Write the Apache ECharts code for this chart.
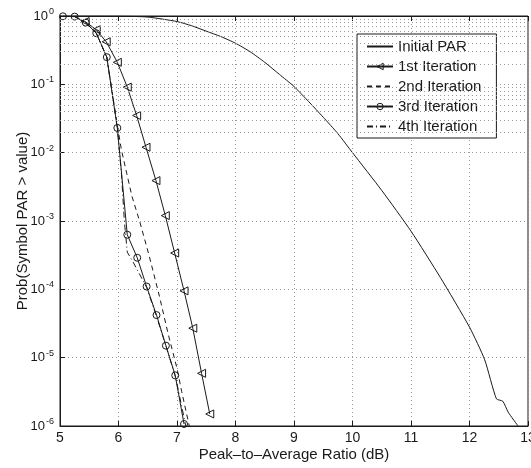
<!DOCTYPE html>
<html>
<head>
<meta charset="utf-8">
<script src="https://cdn.jsdelivr.net/npm/echarts@6/dist/echarts.min.js"></script>
<style>
html, body { margin: 0; padding: 0; background: #fff; }
#chart { width: 531px; height: 468px; }
</style>
</head>
<body>
<div id="chart"></div>
<script>
// values (x in dB, y = probability)
var seriesNames = ['Initial PAR', '1st Iteration', '2nd Iteration', '3rd Iteration', '4th Iteration'];

var initX = [5, 6, 6.5, 7, 7.25, 7.5, 7.75, 8, 8.25, 8.5, 8.75, 9, 9.25, 9.5, 9.75, 10, 10.5, 11, 11.5, 12, 12.26, 12.46, 12.57, 12.66, 12.83];
var initP = [1, 0.995, 0.965, 0.83, 0.72, 0.6, 0.5, 0.4, 0.3, 0.21, 0.14, 9.3e-2, 5.6e-2, 3.3e-2, 1.9e-2, 1e-2, 2.8e-3, 7.1e-4, 1.5e-4, 2.8e-5, 9.3e-6, 2.5e-6, 2.3e-6, 1.6e-6, 1e-6];

var it1X = [5.43, 5.62, 5.79, 5.98, 6.15, 6.31, 6.47, 6.64, 6.80, 6.96, 7.12, 7.27, 7.42, 7.56];
var it1P = [0.83, 0.63, 0.42, 0.21, 9.1e-2, 3.5e-2, 1.2e-2, 3.9e-3, 1.2e-3, 3.4e-4, 9.5e-5, 2.7e-5, 5.9e-6, 1.5e-6];

var it2X = [5.05, 5.25, 5.44, 5.62, 5.80, 5.98, 6.05, 6.14, 6.23, 6.36, 6.52, 6.70, 6.85, 7.00, 7.08, 7.21];
var it2P = [0.99, 0.98, 0.8, 0.56, 0.25, 2.5e-2, 1.1e-2, 5e-3, 2.3e-3, 1e-3, 3.2e-4, 7.9e-5, 2.2e-5, 7e-6, 3.2e-6, 1e-6];

var it3X = [5.05, 5.25, 5.44, 5.62, 5.80, 5.98, 6.15, 6.32, 6.48, 6.65, 6.81, 6.97, 7.12];
var it3P = [0.99, 0.98, 0.8, 0.56, 0.25, 2.3e-2, 6.3e-4, 2.9e-4, 1.1e-4, 4.2e-5, 1.5e-5, 5.5e-6, 1.07e-6];

var it4X = [5.05, 5.25, 5.44, 5.62, 5.80, 5.98, 6.05, 6.10, 6.15, 6.25, 6.48, 6.65, 6.81, 6.98, 7.15];
var it4P = [0.99, 0.98, 0.8, 0.56, 0.25, 2.3e-2, 5e-3, 1e-3, 3.5e-4, 2.5e-4, 1.07e-4, 4e-5, 1.5e-5, 5e-6, 1e-6];

var xTicks = [5, 6, 7, 8, 9, 10, 11, 12, 13];
var yDecades = [-6, -5, -4, -3, -2, -1, 0];

function pairs(xs, ys) {
    return xs.map(function (x, i) { return [x, ys[i]]; });
}

// dotted minor grid lines at 2..9 x 10^k
var minorLines = [];
yDecades.slice(0, -1).forEach(function (e) {
    for (var m = 2; m <= 9; m++) minorLines.push({ yAxis: m * Math.pow(10, e) });
});

var FONT = '"Liberation Sans", Arial, sans-serif';
var ink = '#1a1a1a';
var gridDots = { color: '#999', type: [1, 3], width: 1 };
var hollow = { color: 'transparent', borderColor: ink, borderWidth: 1 };
var noMark = { opacity: 0 };

var chart = echarts.init(document.getElementById('chart'));
chart.setOption({
    animation: false,
    backgroundColor: '#fff',
    textStyle: { fontFamily: FONT },
    grid: {
        left: 60, right: 3, top: 16, bottom: 42,
        containLabel: false,
        outerBoundsMode: 'none',
        show: true, borderColor: ink, borderWidth: 1
    },
    legend: {
        data: [
            { name: seriesNames[0], itemStyle: noMark },
            { name: seriesNames[1], itemStyle: hollow },
            { name: seriesNames[2], itemStyle: noMark },
            { name: seriesNames[3], itemStyle: hollow },
            { name: seriesNames[4], itemStyle: noMark }
        ],
        orient: 'vertical',
        left: 357,
        top: 34,
        padding: [5, 15, 4, 9],
        itemWidth: 26,
        itemHeight: 8,
        itemGap: 5,
        backgroundColor: '#fff',
        borderColor: ink,
        borderWidth: 1,
        borderRadius: 0,
        textStyle: { fontSize: 15, color: ink, fontFamily: FONT }
    },
    xAxis: [{
        type: 'value',
        min: 5,
        max: 13,
        interval: 1,
        name: 'Peak\u2013to\u2013Average Ratio (dB)',
        nameLocation: 'middle',
        nameGap: 21,
        nameMoveOverlap: false,
        nameTextStyle: { fontSize: 15, color: ink },
        axisLine: { lineStyle: { color: ink } },
        axisTick: { inside: true, length: 5, lineStyle: { color: ink } },
        axisLabel: { fontSize: 14, color: ink, margin: 5, showMaxLabel: true },
        splitLine: { show: true, lineStyle: gridDots }
    }, {
        type: 'value',
        position: 'top',
        min: 5,
        max: 13,
        interval: 1,
        axisLine: { lineStyle: { color: ink } },
        axisTick: { inside: true, length: 5, lineStyle: { color: ink } },
        axisLabel: { show: false },
        splitLine: { show: false }
    }],
    yAxis: [{
        type: 'log',
        logBase: 10,
        min: 1e-6,
        max: 1,
        splitNumber: 6,
        name: 'Prob(Symbol PAR > value)',
        nameLocation: 'middle',
        nameGap: 30,
        nameMoveOverlap: false,
        nameTextStyle: { fontSize: 15, color: ink },
        axisLine: { lineStyle: { color: ink } },
        axisTick: { inside: true, length: 5, lineStyle: { color: ink } },
        axisLabel: {
            margin: 6,
            formatter: function (v) {
                var e = Math.round(Math.log10(v));
                return '{b|10}{s|' + e + '}';
            },
            rich: {
                b: { fontSize: 13, color: ink, fontFamily: FONT },
                s: { fontSize: 9, color: ink, fontFamily: FONT, verticalAlign: 'top', padding: [0, 0, 9, 1] }
            }
        },
        splitLine: { show: true, lineStyle: gridDots }
    }],
    series: [{
        name: 'grid-minor',
        type: 'line',
        data: [],
        silent: true,
        markLine: {
            silent: true,
            symbol: ['none', 'none'],
            label: { show: false },
            lineStyle: gridDots,
            animation: false,
            data: minorLines
        }
    }, {
        name: seriesNames[0],
        type: 'line',
        data: pairs(initX, initP),
        smooth: 0.2,
        symbol: 'none',
        lineStyle: { color: ink, width: 1 },
        itemStyle: { color: ink }
    }, {
        name: seriesNames[1],
        type: 'line',
        data: pairs(it1X, it1P),
        symbol: 'triangle',
        symbolSize: 8,
        symbolRotate: 90,
        lineStyle: { color: ink, width: 1 },
        itemStyle: hollow
    }, {
        name: seriesNames[2],
        type: 'line',
        data: pairs(it2X, it2P),
        symbol: 'none',
        lineStyle: { color: ink, width: 1, type: [5, 4] },
        itemStyle: { color: ink }
    }, {
        name: seriesNames[3],
        type: 'line',
        data: pairs(it3X, it3P),
        symbol: 'circle',
        symbolSize: 7,
        lineStyle: { color: ink, width: 1 },
        itemStyle: hollow
    }, {
        name: seriesNames[4],
        type: 'line',
        data: pairs(it4X, it4P),
        symbol: 'none',
        lineStyle: { color: ink, width: 1, type: [6, 3, 1, 3] },
        itemStyle: { color: ink }
    }]
});
</script>
</body>
</html>
